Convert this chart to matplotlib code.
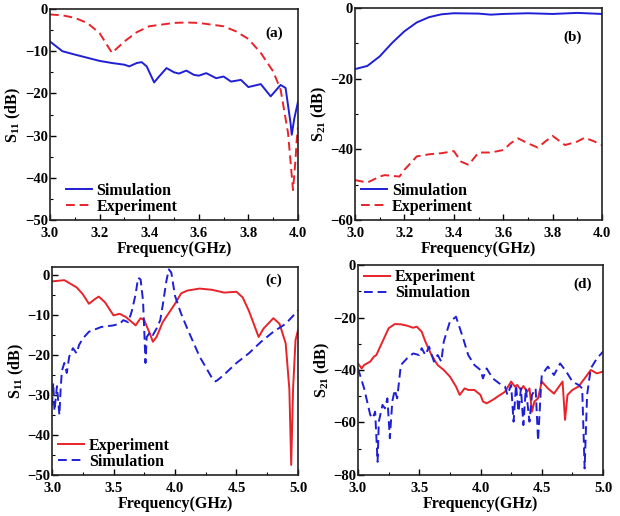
import matplotlib
matplotlib.use("Agg")
import matplotlib.pyplot as plt
from matplotlib.ticker import MultipleLocator
import numpy as np

plt.rcParams['font.family'] = ['Liberation Serif', 'DejaVu Serif']
plt.rcParams['font.weight'] = 'bold'
plt.rcParams['mathtext.fontset'] = 'custom'
plt.rcParams['mathtext.rm'] = 'Liberation Serif:bold'
plt.rcParams['mathtext.it'] = 'Liberation Serif:bold'
plt.rcParams['mathtext.bf'] = 'Liberation Serif:bold'

# ---- panel (a): S11, 3-4 GHz
a_sim_f = [3.0, 3.05, 3.1, 3.2, 3.25, 3.3, 3.32, 3.35, 3.37, 3.39, 3.42, 3.44, 3.47, 3.5,
           3.52, 3.55, 3.58, 3.6, 3.63, 3.67, 3.7, 3.73, 3.77, 3.8, 3.85, 3.89, 3.93,
           3.95, 3.97, 3.975, 3.985, 4.0]
a_sim_s = [-7.7, -10.0, -10.8, -12.3, -12.8, -13.2, -13.6, -12.8, -12.6, -13.6, -17.4, -16.0,
           -14.0, -15.0, -15.3, -14.6, -15.6, -15.8, -15.2, -16.4, -16.0, -17.2, -16.8,
           -18.5, -17.8, -20.7, -18.0, -18.7, -27.0, -29.8, -26.0, -22.0]
a_exp_f = [3.0, 3.05, 3.1, 3.15, 3.2, 3.25, 3.3, 3.35, 3.4, 3.5, 3.55, 3.6, 3.7, 3.75, 3.8,
           3.85, 3.9, 3.93, 3.96, 3.98, 3.99, 3.995, 4.0]
a_exp_s = [-1.3, -1.5, -2.1, -3.3, -5.7, -10.4, -7.7, -5.5, -4.1, -3.3, -3.2, -3.3, -4.1,
           -5.3, -7.1, -10.4, -14.8, -19.1, -29.4, -42.9, -35.8, -31.0, -28.0]

# ---- panel (b): S21, 3-4 GHz
b_sim_f = [3.0, 3.05, 3.1, 3.15, 3.2, 3.25, 3.3, 3.35, 3.4, 3.5, 3.55, 3.6, 3.7, 3.8, 3.9, 4.0]
b_sim_s = [-17.3, -16.4, -13.7, -9.9, -6.6, -4.1, -2.6, -1.8, -1.5, -1.6, -1.9, -1.7, -1.5,
           -1.7, -1.4, -1.7]
b_exp_f = [3.0, 3.05, 3.1, 3.12, 3.18, 3.2, 3.25, 3.3, 3.35, 3.4, 3.43, 3.46, 3.5, 3.55, 3.6,
           3.63, 3.66, 3.7, 3.74, 3.77, 3.8, 3.85, 3.9, 3.93, 3.97, 4.0]
b_exp_s = [-48.7, -49.4, -47.7, -47.3, -47.7, -45.8, -42.0, -41.4, -41.1, -40.5, -43.5, -44.4,
           -40.9, -40.9, -40.2, -38.3, -36.9, -38.3, -39.5, -37.8, -36.2, -38.8, -37.8,
           -36.7, -37.8, -38.8]

# ---- panel (c): S11, 3-5 GHz
c_exp_f = [3.0, 3.1, 3.2, 3.25, 3.3, 3.35, 3.38, 3.43, 3.5, 3.55, 3.6, 3.65, 3.68, 3.72, 3.75,
           3.8, 3.82, 3.85, 3.9, 4.0, 4.05, 4.1, 4.2, 4.3, 4.4, 4.5, 4.55, 4.6, 4.65, 4.68,
           4.72, 4.8, 4.85, 4.9, 4.93, 4.945, 4.96, 4.98, 5.0]
c_exp_s = [-1.6, -1.3, -3.1, -4.8, -7.2, -6.0, -5.4, -6.8, -10.1, -9.7, -10.5, -11.8, -12.6,
           -10.8, -11.3, -15.0, -16.7, -15.5, -11.8, -7.2, -4.6, -3.9, -3.4, -3.7, -4.4,
           -4.2, -5.6, -8.9, -13.0, -15.5, -13.4, -10.8, -12.2, -17.1, -28.6, -47.5, -28.6,
           -16.3, -13.8]
c_sim_f = [3.0, 3.01, 3.02, 3.04, 3.06, 3.07, 3.08, 3.1, 3.12, 3.14, 3.17, 3.2, 3.22, 3.25,
           3.3, 3.4, 3.5, 3.55, 3.58, 3.62, 3.65, 3.68, 3.7, 3.72, 3.74, 3.75, 3.76, 3.77,
           3.8, 3.82, 3.85, 3.88, 3.9, 3.93, 3.95, 3.97, 4.0, 4.05, 4.1, 4.2, 4.3, 4.33,
           4.35, 4.4, 4.5, 4.6, 4.7, 4.8, 4.9, 5.0]
c_sim_s = [-32.7, -27.0, -34.0, -27.8, -35.0, -28.6, -24.0, -22.0, -24.5, -20.4, -18.3, -19.6,
           -17.5, -15.9, -14.2, -13.0, -12.6, -12.2, -11.3, -11.8, -8.9, -4.8, -0.7, -1.1,
           -6.4, -13.8, -22.0, -15.5, -14.2, -15.0, -13.4, -11.3, -7.6, -1.5, 1.4, 0.6,
           -5.2, -9.7, -13.4, -20.4, -25.7, -26.6, -26.2, -24.9, -22.0, -19.6, -16.7,
           -14.2, -12.2, -8.9]

# ---- panel (d): S21, 3-5 GHz
d_exp_f = [3.0, 3.03, 3.05, 3.1, 3.13, 3.15, 3.2, 3.25, 3.3, 3.35, 3.4, 3.45, 3.48, 3.52, 3.55,
           3.6, 3.65, 3.7, 3.75, 3.8, 3.83, 3.87, 3.9, 3.95, 4.0, 4.02, 4.05, 4.1, 4.15, 4.2,
           4.25, 4.28, 4.3, 4.33, 4.35, 4.38, 4.4, 4.42, 4.44, 4.47, 4.5, 4.55, 4.6, 4.65,
           4.67, 4.69, 4.71, 4.75, 4.8, 4.85, 4.9, 4.95, 5.0]
d_exp_s = [-37.5, -39.4, -38.1, -36.8, -34.9, -34.3, -29.2, -24.1, -22.5, -22.6, -23.1, -23.9,
           -23.5, -25.4, -29.2, -34.3, -38.1, -40.0, -42.5, -46.3, -49.5, -47.0, -47.6,
           -47.6, -49.5, -52.0, -52.7, -51.4, -49.8, -48.3, -44.4, -46.3, -45.7, -47.6,
           -46.1, -48.3, -47.0, -55.9, -52.0, -50.8, -44.4, -47.0, -49.0, -45.7, -44.4,
           -59.0, -49.5, -47.6, -46.3, -43.2, -40.0, -41.3, -40.6]
d_sim_f = [3.0, 3.05, 3.1, 3.12, 3.14, 3.16, 3.17, 3.2, 3.22, 3.24, 3.26, 3.28, 3.3, 3.32,
           3.35, 3.4, 3.45, 3.5, 3.52, 3.55, 3.58, 3.62, 3.65, 3.68, 3.7, 3.75, 3.8, 3.85,
           3.9, 3.95, 4.0, 4.02, 4.05, 4.1, 4.15, 4.2, 4.22, 4.25, 4.27, 4.29, 4.31, 4.33,
           4.35, 4.37, 4.4, 4.42, 4.45, 4.47, 4.49, 4.5, 4.55, 4.6, 4.65, 4.7, 4.75, 4.8,
           4.83, 4.85, 4.87, 4.9, 4.95, 5.0]
d_sim_s = [-39.4, -47.0, -57.1, -58.4, -55.9, -75.0, -59.7, -53.3, -54.6, -50.8, -66.0, -52.0,
           -47.6, -50.8, -38.1, -35.6, -33.7, -34.3, -31.7, -34.3, -31.1, -36.8, -34.3,
           -36.8, -29.2, -21.6, -19.7, -26.7, -34.3, -38.1, -40.0, -43.2, -39.4, -43.2,
           -45.0, -46.3, -49.5, -45.7, -59.7, -45.7, -55.9, -47.0, -61.0, -47.0, -59.7,
           -49.5, -47.0, -67.0, -49.5, -41.9, -38.7, -41.9, -37.5, -40.6, -44.4, -45.7,
           -47.0, -77.5, -49.5, -39.4, -35.6, -33.0]

BLUE = '#1f1fd6'
RED = '#e8232a'
DASH = (0, (4.5, 2.5))

fig = plt.figure(figsize=(6.2, 5.16), dpi=100)
ax_a = fig.add_axes([0.0806, 0.5736, 0.400, 0.409])
ax_b = fig.add_axes([0.5726, 0.5736, 0.3984, 0.411])
ax_c = fig.add_axes([0.0839, 0.0795, 0.3967, 0.4031])
ax_d = fig.add_axes([0.5774, 0.0795, 0.3952, 0.4069])


def style(ax, xlim, xmaj, ylim, ymaj, ylabel, tag, tagpos):
    ax.set_xlim(*xlim)
    ax.set_ylim(*ylim)
    ax.xaxis.set_major_locator(MultipleLocator(xmaj))
    ax.xaxis.set_minor_locator(MultipleLocator(xmaj / 2))
    ax.yaxis.set_major_locator(MultipleLocator(ymaj))
    ax.yaxis.set_minor_locator(MultipleLocator(ymaj / 2))
    ax.tick_params(which='both', direction='in', top=False, right=False, labelsize=10.5)
    ax.tick_params(axis='x', pad=5)
    ax.tick_params(axis='y', pad=1.5)
    ax.tick_params(which='major', length=4, width=1)
    ax.tick_params(which='minor', length=2.5, width=0.8)
    for lab in ax.get_xticklabels() + ax.get_yticklabels():
        lab.set_fontweight('bold')
    for sp in ax.spines.values():
        sp.set_linewidth(1.2)
        sp.set_color('#222222')
    ax.set_xlabel('Frequency(GHz)', fontsize=11.5, fontweight='bold', labelpad=0.5)
    ax.set_ylabel(ylabel, fontsize=11.5, fontweight='bold', labelpad=1)
    ax.text(tagpos[0], tagpos[1], tag, transform=ax.transAxes, fontsize=11,
            fontweight='bold', ha='center', va='center')


def legend(ax, loc, anchor):
    leg = ax.legend(loc=loc, bbox_to_anchor=anchor, frameon=False, fontsize=11.5,
                    handlelength=1.6, handletextpad=0.3, labelspacing=0.0,
                    borderaxespad=0.2, borderpad=0.2)
    for t in leg.get_texts():
        t.set_fontweight('bold')


ax_a.plot(a_sim_f, a_sim_s, color=BLUE, lw=1.4, label='Simulation')
ax_a.plot(a_exp_f, a_exp_s, color=RED, lw=1.4, ls=DASH, label='Experiment')
style(ax_a, (3.0, 4.0), 0.2, (-50, 0), 10, r'S$_{11}$ (dB)', '(a)', (0.905, 0.885))
legend(ax_a, 'lower left', (0.04, -0.005))

ax_b.plot(b_sim_f, b_sim_s, color=BLUE, lw=1.4, label='Simulation')
ax_b.plot(b_exp_f, b_exp_s, color=RED, lw=1.4, ls=DASH, label='Experiment')
style(ax_b, (3.0, 4.0), 0.2, (-60, 0), 20, r'S$_{21}$ (dB)', '(b)', (0.88, 0.86))
legend(ax_b, 'lower left', (0.0, -0.005))

ax_c.plot(c_exp_f, c_exp_s, color=RED, lw=1.4, label='Experiment')
ax_c.plot(c_sim_f, c_sim_s, color=BLUE, lw=1.4, ls=DASH, label='Simulation')
style(ax_c, (3.0, 5.0), 0.5, (-50, 2), 10, r'S$_{11}$ (dB)', '(c)', (0.9, 0.935))
legend(ax_c, 'lower left', (0.0, -0.005))

ax_d.plot(d_exp_f, d_exp_s, color=RED, lw=1.4, label='Experiment')
ax_d.plot(d_sim_f, d_sim_s, color=BLUE, lw=1.4, ls=DASH, label='Simulation')
style(ax_d, (3.0, 5.0), 0.5, (-80, 0), 20, r'S$_{21}$ (dB)', '(d)', (0.915, 0.91))
legend(ax_d, 'upper left', (0.0, 1.01))

fig.savefig('out.png', dpi=100)
